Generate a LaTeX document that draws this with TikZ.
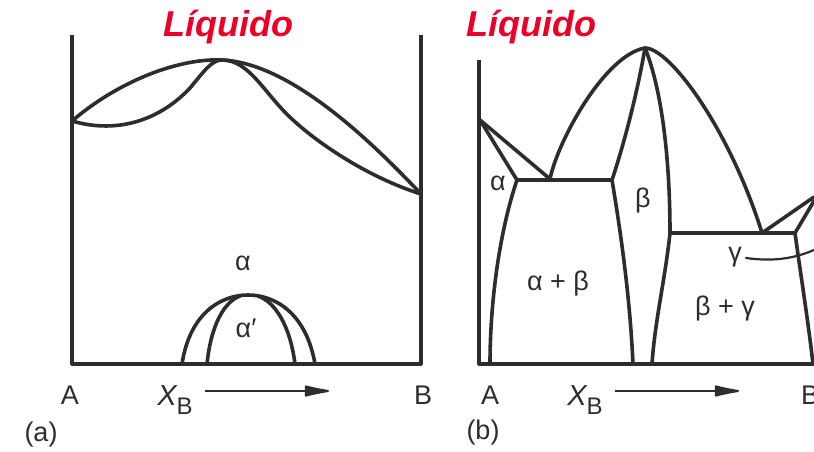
\documentclass[tikz,border=0pt]{standalone}
\usepackage{fontspec}
\setmainfont{Liberation Sans}
\usetikzlibrary{arrows.meta,positioning}
\definecolor{myRed}{RGB}{236,0,40}
\definecolor{myInk}{RGB}{45,45,45}
\newcommand{\myXB}{{\fontsize{29}{30}\selectfont\itshape X}\raisebox{-9pt}{\fontsize{24}{26}\selectfont B}}
\tikzset{
myAxis/.style={draw=myInk,line width=3.2pt,line join=round}
, myLine/.style={draw=myInk,line width=3.6pt,line cap=round,line join=round}
, myLeader/.style={draw=myInk,line width=2.2pt,line cap=round}
, myTitle/.style={text=myRed,font=\fontsize{36}{40}\selectfont\bfseries\itshape,inner sep=0pt,anchor=base}
, myLabel/.style={text=myInk,font=\fontsize{27}{30}\selectfont,inner sep=0pt}
, myArrow/.style={draw=myInk,line width=2.2pt,-{Latex[round,length=32pt,width=12pt]}}
}
\begin{document}
\begin{tikzpicture}[x=1pt,y=-1pt]
	\useasboundingbox (0,0) rectangle (814,452);
	% titles
	\node[myTitle] (aLiq) at (228,37) {Líquido};
	\node[myTitle] (bLiq) at (531,37) {Líquido};

	% (a) frame
	\coordinate (aNW) at (72,35);
	\coordinate (aSW) at (72,364);
	\coordinate (aSE) at (421,364);
	\coordinate (aNE) at (421,35);
	\draw[myAxis] (aNW) -- (aSW) -- (aSE) -- (aNE);
	% (a) liquidus / solidus
	\coordinate (aTA) at (72,121);
	\coordinate (aTB) at (421,194);
	\coordinate (aMax) at (222,60);
	\draw[myLine] (aTA) .. controls (120,80) and (180,58) .. (aMax)
		.. controls (290,63) and (370,140) .. (aTB);
	\draw[myLine] (aTA) .. controls (120,135) and (162,118) .. (190,88)
		.. controls (205,70) and (212,60) .. (aMax)
		.. controls (250,60) and (265,95) .. (293,120)
		.. controls (320,145) and (370,178) .. (aTB);
	% (a) miscibility gap
	\coordinate (gapTop) at (248,295);
	\draw[myLine] (182,364) .. controls (190,312) and (222,295) .. (gapTop)
		.. controls (274,295) and (306,312) .. (315,364);
	\draw[myLine] (207,364) .. controls (211,325) and (224,302) .. (240,296);
	\draw[myLine] (295,364) .. controls (290,325) and (275,302) .. (258,296);
	% (a) labels
	\node[myLabel,anchor=base] (aAlpha) at (243,270) {α};
	\node[myLabel,anchor=base] (aAlphaP) at (246,337) {α′};
	\node[myLabel,anchor=base] (aA) at (70,404) {A};
	\node[myLabel,anchor=base] (aB) at (423,404) {B};
	\node[myLabel,anchor=base] (aX) at (175,405) {\myXB};
	\node[myLabel,anchor=base] (aTag) at (41,441) {(a)};
	\coordinate (aArrS) at (205,391);
	\coordinate (aArrE) at (329,391);
	\draw[myArrow] (aArrS) -- (aArrE);

	% (b) frame
	\coordinate (bNW) at (479,60);
	\coordinate (bSW) at (479,364);
	\coordinate (bSE) at (814,364);
	\draw[myAxis] (bNW) -- (bSW) -- (bSE);
	% (b) points
	\coordinate (bTA) at (480,120);
	\coordinate (bEu) at (550,179);
	\coordinate (bAl) at (517,180);
	\coordinate (bBl) at (612,180);
	\coordinate (bMax) at (645,48);
	\coordinate (bBr) at (670,233);
	\coordinate (bEuR) at (762,233);
	\coordinate (bGa) at (795,233);
	% (b) lines
	\draw[myLine] (bTA) -- (bEu);
	\draw[myLine] (bTA) -- (bAl) -- (bBl);
	\draw[myLine] (bAl) .. controls (500,230) and (490,300) .. (490,364);
	\draw[myLine] (bEu) .. controls (558,140) and (605,55) .. (bMax)
		.. controls (670,48) and (730,130) .. (bEuR);
	\draw[myLine] (bMax) .. controls (636,100) and (622,150) .. (bBl)
		.. controls (622,240) and (630,300) .. (633,364);
	\draw[myLine] (bMax) .. controls (662,90) and (670,160) .. (bBr)
		.. controls (665,280) and (655,320) .. (652,364);
	\draw[myLine] (bBr) -- (bEuR) -- (bGa);
	\draw[myLine] (bEuR) -- (814,197);
	\draw[myLine] (bGa) -- (814,201);
	\draw[myLine] (bGa) .. controls (800,270) and (808,320) .. (813,364);
	% (b) labels
	\node[myLabel,anchor=base] (bAlpha) at (498,190) {α};
	\node[myLabel] (bBeta) at (643,201) {β};
	\node[myLabel,anchor=base] (bAB) at (558,290) {α + β};
	\node[myLabel,anchor=base] (bBG) at (725,315) {β + γ};
	\node[myLabel] (bGamma) at (735,257) {γ};
	\coordinate (bLeadE) at (814,250);
	\draw[myLeader] (bGamma.east) ++(4,1) .. controls (775,262) and (795,258) .. (bLeadE);
	\node[myLabel,anchor=base] (bA) at (490,404) {A};
	\node[myLabel,anchor=base] (bB) at (810,404) {B};
	\node[myLabel,anchor=base] (bX) at (585,405) {\myXB};
	\node[myLabel,anchor=base] (bTag) at (483,439) {(b)};
	\coordinate (bArrS) at (615,391);
	\coordinate (bArrE) at (739,391);
	\draw[myArrow] (bArrS) -- (bArrE);
\end{tikzpicture}
\end{document}
